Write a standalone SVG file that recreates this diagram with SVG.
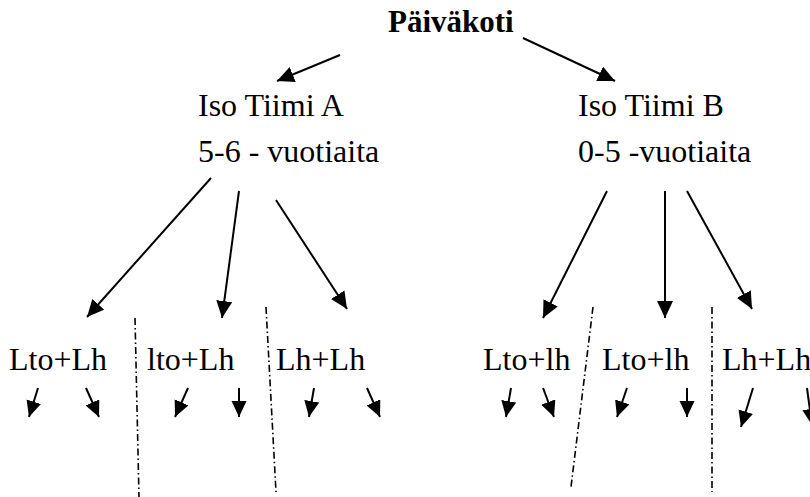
<svg xmlns="http://www.w3.org/2000/svg" width="810" height="497" viewBox="0 0 810 497">
<style>
text{font-family:"Liberation Serif","Times New Roman",serif;font-size:32px;fill:#000}
.title{font-weight:bold;font-size:31px}
.arr{stroke:#000;stroke-width:2;fill:none;marker-end:url(#ah)}
.sarr{stroke:#000;stroke-width:2;fill:none;marker-end:url(#sh)}
.div{stroke:#000;stroke-width:1.6;fill:none;stroke-dasharray:7 3 1.5 3}
</style>
<defs>
<marker id="ah" markerUnits="userSpaceOnUse" markerWidth="18" markerHeight="16" refX="17" refY="8" orient="auto">
<path d="M0,0 L17,8 L0,16 z" fill="#000"/>
</marker>
<marker id="sh" markerUnits="userSpaceOnUse" markerWidth="18" markerHeight="16" refX="16" refY="7.5" orient="auto">
<path d="M0,0 L16,7.5 L0,15 z" fill="#000"/>
</marker>
</defs>
<g id="paivakoti"><text class="title" x="388" y="32">Päiväkoti</text></g>
<g id="tiimiA"><text x="198" y="116">Iso Tiimi A</text><text x="198" y="162">5-6 - vuotiaita</text></g>
<g id="tiimiB"><text x="578" y="116">Iso Tiimi B</text><text x="578" y="162">0-5 -vuotiaita</text></g>
<g id="a1"><text x="9" y="370">Lto+Lh</text></g>
<g id="a2"><text x="147" y="370">lto+Lh</text></g>
<g id="a3"><text x="276" y="370">Lh+Lh</text></g>
<g id="b1"><text x="483" y="370">Lto+lh</text></g>
<g id="b2"><text x="602" y="370">Lto+lh</text></g>
<g id="b3"><text x="722" y="370">Lh+Lh</text></g>
<g id="connectors">
<line class="arr" x1="340" y1="55" x2="277" y2="81"/>
<line class="arr" x1="523" y1="38" x2="615" y2="81"/>
<line class="arr" x1="211" y1="178" x2="87" y2="317"/>
<line class="arr" x1="239" y1="191" x2="222" y2="318"/>
<line class="arr" x1="276" y1="200" x2="347" y2="309"/>
<line class="arr" x1="607" y1="191" x2="543" y2="318"/>
<line class="arr" x1="665" y1="191" x2="665" y2="318"/>
<line class="arr" x1="687" y1="191" x2="752" y2="309"/>
<line class="sarr" x1="38" y1="388" x2="29" y2="417"/>
<line class="sarr" x1="86" y1="388" x2="99" y2="417"/>
<line class="sarr" x1="188" y1="388" x2="175" y2="417"/>
<line class="sarr" x1="239" y1="388" x2="239" y2="417"/>
<line class="sarr" x1="314" y1="388" x2="309" y2="417"/>
<line class="sarr" x1="367" y1="388" x2="380" y2="417"/>
<line class="sarr" x1="511" y1="388" x2="506" y2="417"/>
<line class="sarr" x1="543" y1="388" x2="554" y2="417"/>
<line class="sarr" x1="627" y1="388" x2="617" y2="417"/>
<line class="sarr" x1="687" y1="388" x2="687" y2="417"/>
<line class="sarr" x1="753" y1="388" x2="741" y2="427"/>
<line class="sarr" x1="807" y1="388" x2="812" y2="425"/>
<line class="div" x1="135" y1="318" x2="139" y2="497"/>
<line class="div" x1="266" y1="307" x2="276" y2="492"/>
<line class="div" x1="593" y1="307" x2="571" y2="487"/>
<line class="div" x1="712" y1="307" x2="712" y2="492"/>
</g>
</svg>
